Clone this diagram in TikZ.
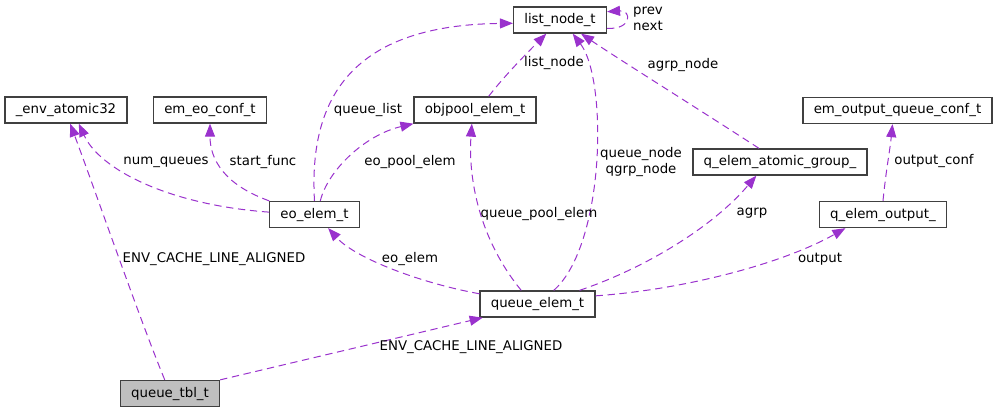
\documentclass[tikz,border=0pt]{standalone}
\usepackage{fontspec}
\setmainfont{DejaVu Sans}
\usetikzlibrary{arrows.meta}

\definecolor{edgecol}{HTML}{9A32CD}
\definecolor{boxcol}{HTML}{404040}

\tikzset{
	cls/.style={draw=boxcol, line width=1pt, fill=white, minimum height=19.5pt, inner xsep=8pt, inner ysep=0pt, font=\fontsize{10}{12}\selectfont},
	member/.style={draw=edgecol, line width=0.75pt, dash pattern=on 5.5pt off 3.5pt, -{Triangle[length=9.75pt,width=7.5pt,fill=edgecol]}},
	lbl/.style={inner sep=0pt, align=center, font=\fontsize{10}{12}\selectfont},
}

\begin{document}
\begin{tikzpicture}[x=0.75pt, y=-0.75pt]
	\useasboundingbox (0,0) rectangle (997,412);

	% structs
	\node[cls] (listnode) at (560,20) {list\_node\_t};
	\node[cls] (objpool) at (475,110) {objpool\_elem\_t};
	\node[cls] (envat) at (66,110) {\_env\_atomic32};
	\node[cls] (eoconf) at (210,110) {em\_eo\_conf\_t};
	\node[cls] (eoelem) at (314.5,214.5) {eo\_elem\_t};
	\node[cls] (qgroup) at (780,162) {q\_elem\_atomic\_group\_};
	\node[cls] (outconf) at (897.5,110.5) {em\_output\_queue\_conf\_t};
	\node[cls] (qout) at (883,214.5) {q\_elem\_output\_};
	\node[cls] (qelem) at (537.5,304) {queue\_elem\_t};
	\node[cls, fill=gray!50] (qtbl) at (170,393.5) {queue\_tbl\_t};

	% members
	\draw[member] (listnode.-10) .. controls (632,30) and (632,10) .. (listnode.10);
	\draw[member] (eoelem.north) .. controls (308,90) and (360,25) .. (listnode.184);
	\draw[member] (objpool.45) .. controls (505,75) and (530,50) .. (listnode.-135);
	\draw[member] (qelem.40) .. controls (605,245) and (608,80) .. (listnode.-47);
	\draw[member] (qgroup.147) .. controls (700,110) and (620,60) .. (listnode.-33);
	\draw[member] (eoelem.177) .. controls (170,205) and (100,170) .. (envat.-47);
	\draw[member] (eoelem.north west) .. controls (225,185) and (210,160) .. (eoconf.south);
	\draw[member] (eoelem.67) .. controls (328,170) and (365,135) .. (objpool.south west);
	\draw[member] (qelem.140) .. controls (480,240) and (468,180) .. (objpool.-103);
	\draw[member] (qelem.170) .. controls (420,283) and (355,258) .. (eoelem.-45);
	\draw[member] (qelem.18) .. controls (640,270) and (710,230) .. (qgroup.-150);
	\draw[member] (qelem.8) .. controls (680,290) and (780,265) .. (qout.-160);
	\draw[member] (qout.north) .. controls (886,170) and (890,150) .. (outconf.-110);
	\draw[member] (qtbl.111) .. controls (140,320) and (95,190) .. (envat.-73);
	\draw[member] (qtbl.north east) -- (qelem.-166);

	% labels
	\node[lbl] (lprev) at (648,19) {prev\\next};
	\node[lbl] (lqlist) at (368,110) {queue\_list};
	\node[lbl] (llnode) at (554,63) {list\_node};
	\node[lbl] (lqnode) at (641,162) {queue\_node\\qgrp\_node};
	\node[lbl] (lagrpn) at (683,65) {agrp\_node};
	\node[lbl] (lnumq) at (166,162) {num\_queues};
	\node[lbl] (lstart) at (263,162) {start\_func};
	\node[lbl] (leopool) at (410,162) {eo\_pool\_elem};
	\node[lbl] (lqpool) at (539,214) {queue\_pool\_elem};
	\node[lbl] (leoelem) at (410,259) {eo\_elem};
	\node[lbl] (lagrp) at (752,213) {agrp};
	\node[lbl] (loutput) at (820,259) {output};
	\node[lbl] (loutconf) at (934,161) {output\_conf};
	\node[lbl] (lalign1) at (214,259) {ENV\_CACHE\_LINE\_ALIGNED};
	\node[lbl] (lalign2) at (471,347) {ENV\_CACHE\_LINE\_ALIGNED};
\end{tikzpicture}
\end{document}
